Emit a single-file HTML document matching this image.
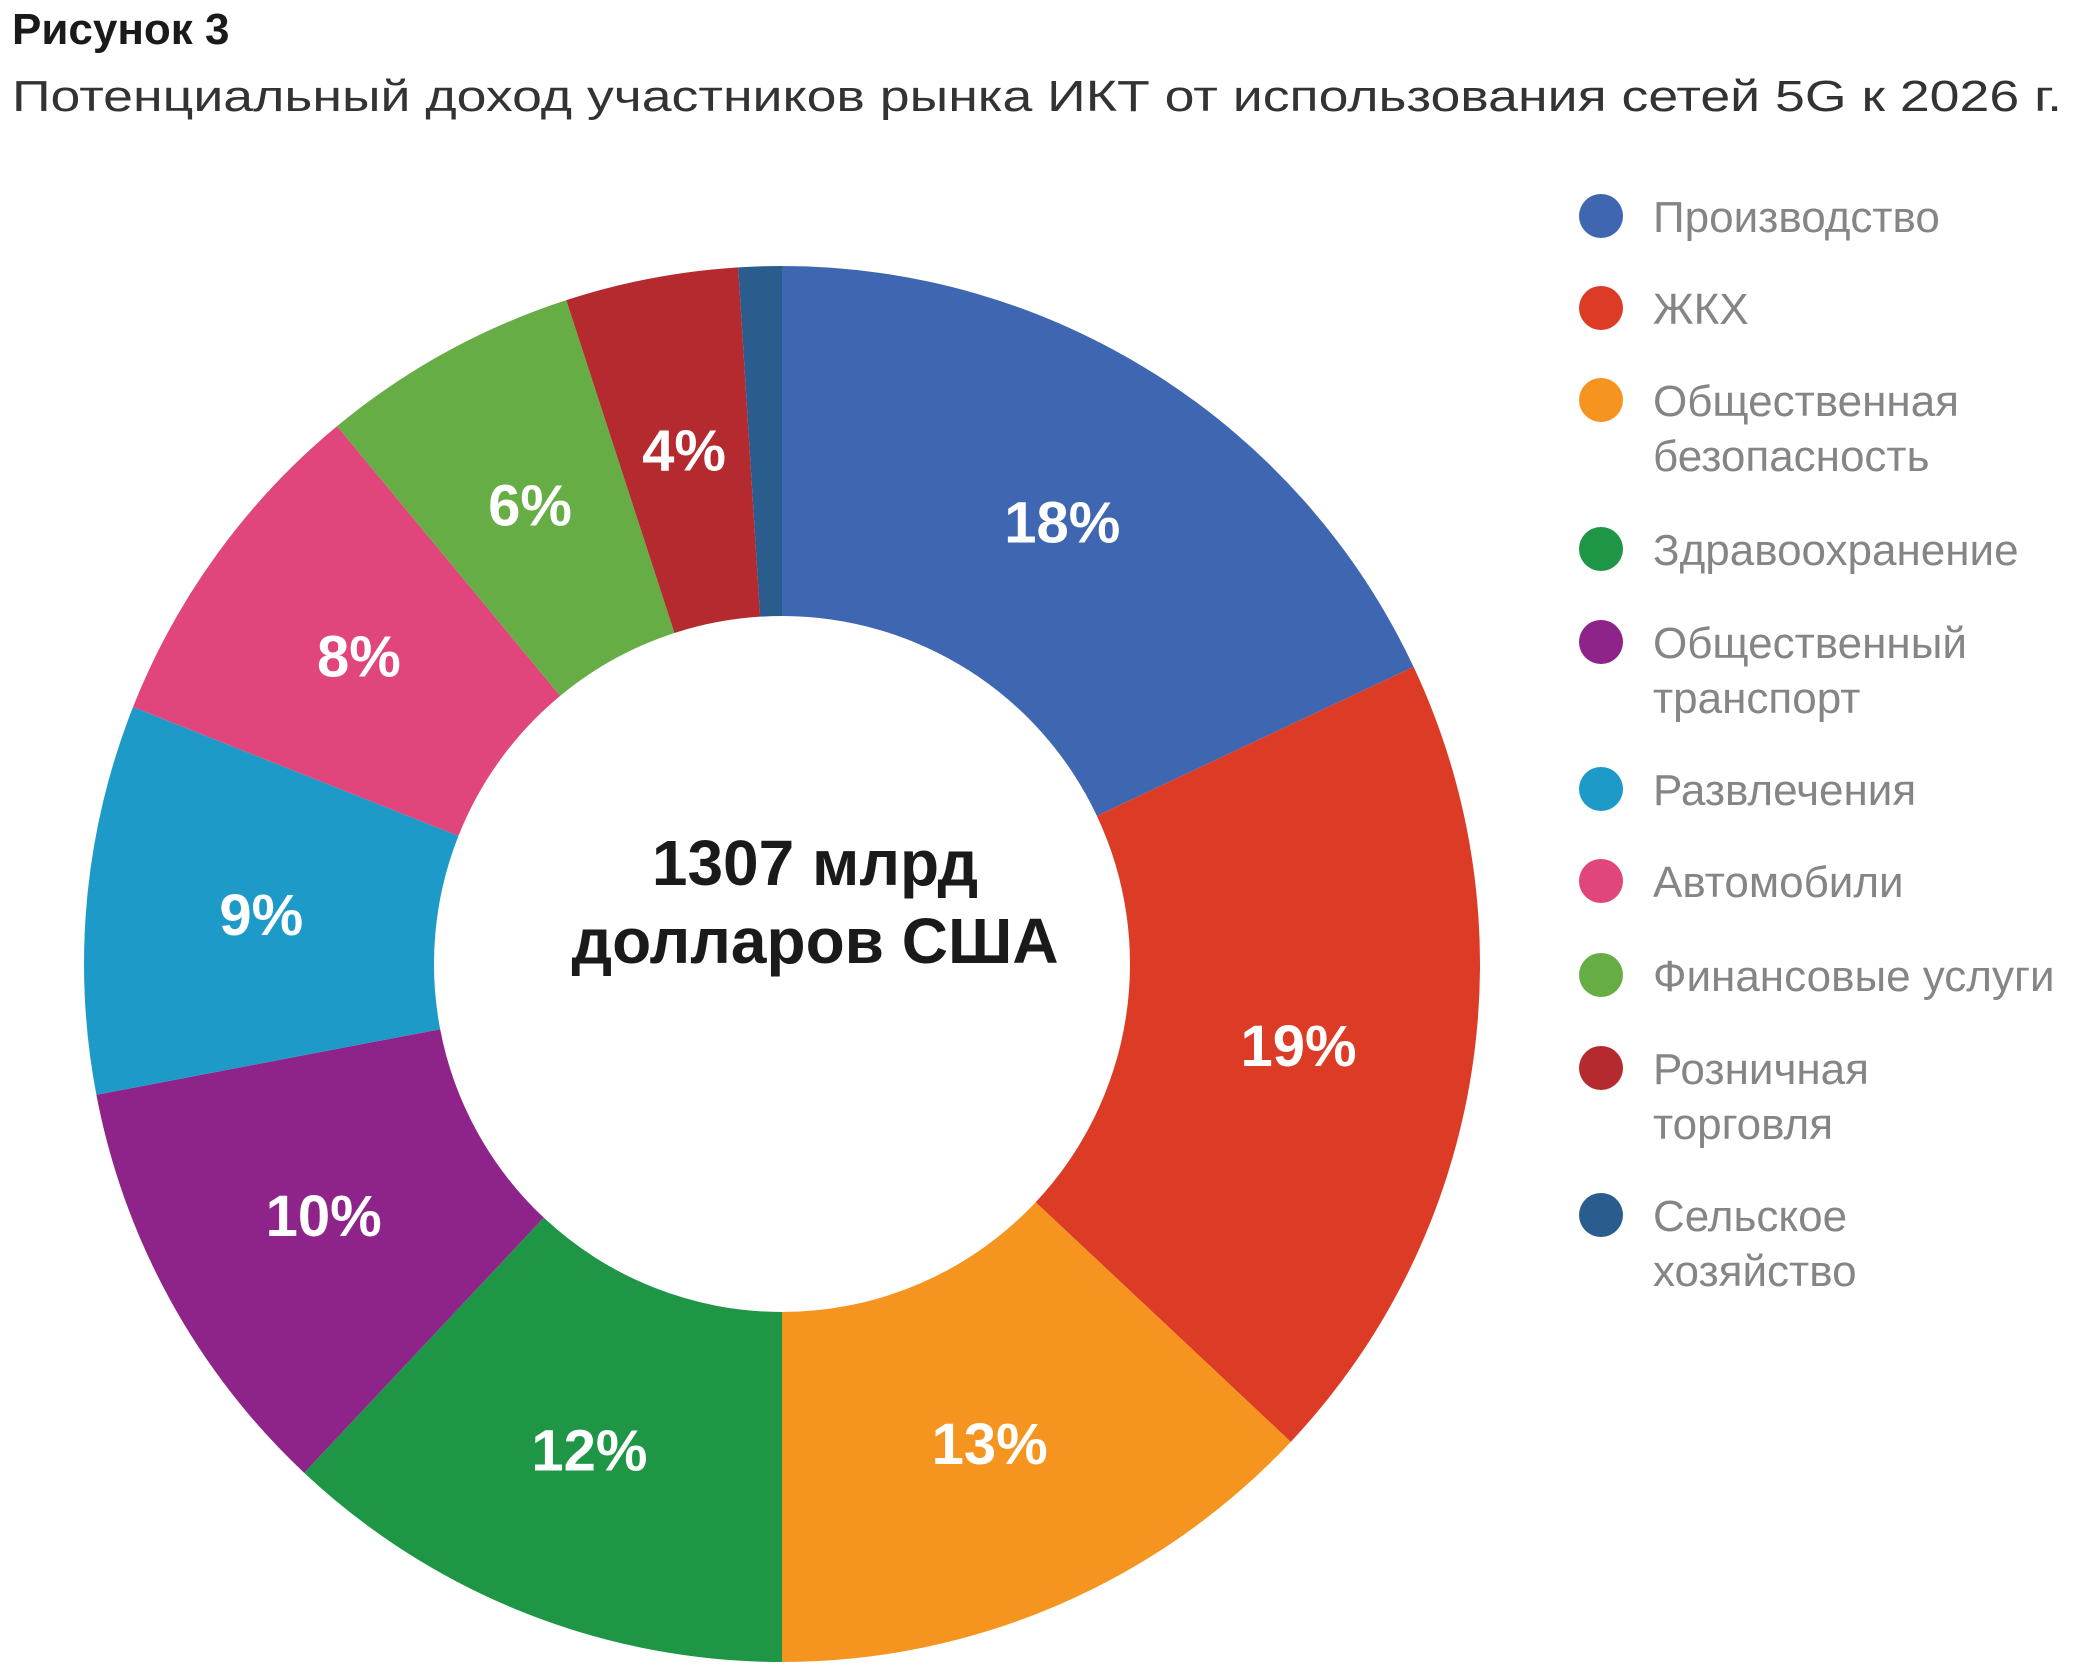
<!DOCTYPE html>
<html><head><meta charset="utf-8"><style>
html,body{margin:0;padding:0;background:#fff;}
svg{display:block;}
text{font-family:"Liberation Sans","DejaVu Sans",sans-serif;}
</style></head><body>
<svg id="chart" width="2083" height="1679" viewBox="0 0 2083 1679" xmlns="http://www.w3.org/2000/svg">
<text x="12" y="44" font-size="44" font-weight="bold" fill="#1a1a1a">Рисунок 3</text>
<text x="12" y="111" font-size="44" fill="#333" textLength="2050" lengthAdjust="spacingAndGlyphs">Потенциальный доход участников рынка ИКТ от использования сетей 5G к 2026 г.</text>
<g id="slices"></g>
<g id="labels"></g>
<text x="815" y="885" font-size="64" font-weight="bold" fill="#1a1a1a" text-anchor="middle">1307 млрд</text>
<text x="815" y="963" font-size="64" font-weight="bold" fill="#1a1a1a" text-anchor="middle">долларов США</text>
<g id="legend"></g>
</svg>
<script>
const categories = ["Производство","ЖКХ","Общественная безопасность","Здравоохранение","Общественный транспорт","Развлечения","Автомобили","Финансовые услуги","Розничная торговля","Сельское хозяйство"];
const legendLines = [["Производство"],["ЖКХ"],["Общественная","безопасность"],["Здравоохранение"],["Общественный","транспорт"],["Развлечения"],["Автомобили"],["Финансовые услуги"],["Розничная","торговля"],["Сельское","хозяйство"]];
const values = [18,19,13,12,10,9,8,6,4,1];
const valueLabels = ["18%","19%","13%","12%","10%","9%","8%","6%","4%",""];
const colors = ["#3F67B1","#DC3B26","#F5951F","#1E9646","#8E2489","#1E9AC9","#E0457B","#67AD45","#B52A2F","#2B5C8E"];

const NS="http://www.w3.org/2000/svg";
const cx=782, cy=964, R=698, r=348, LR=523;
const total=values.reduce((a,b)=>a+b,0);
function angle(v){return v/total*2*Math.PI;}
function pt(a,rad){return [cx+rad*Math.sin(a), cy-rad*Math.cos(a)];}
const gS=document.getElementById('slices'), gL=document.getElementById('labels'), gLeg=document.getElementById('legend');
let acc=0;
values.forEach((v,i)=>{
  const a0=angle(acc), a1=angle(acc+v); acc+=v;
  const large=(a1-a0)>Math.PI?1:0;
  const [x0,y0]=pt(a0,R),[x1,y1]=pt(a1,R),[x2,y2]=pt(a1,r),[x3,y3]=pt(a0,r);
  const p=document.createElementNS(NS,'path');
  p.setAttribute('d',`M${x0},${y0}A${R},${R} 0 ${large} 1 ${x1},${y1}L${x2},${y2}A${r},${r} 0 ${large} 0 ${x3},${y3}Z`);
  p.setAttribute('fill',colors[i]);
  
  
  gS.appendChild(p);
  if(valueLabels[i]){
    const [lx,ly]=pt((a0+a1)/2,LR);
    const t=document.createElementNS(NS,'text');
    t.setAttribute('x',lx); t.setAttribute('y',ly+20);
    t.setAttribute('text-anchor','middle'); t.setAttribute('font-size','58');
    t.setAttribute('font-weight','bold'); t.setAttribute('fill','#fff');
    t.textContent=valueLabels[i];
    
    
    gL.appendChild(t);
  }
});
const legY=[216,308,400,549,642,789,881,975,1068,1215];
categories.forEach((c,i)=>{
  const g=document.createElementNS(NS,'g');
  
  
  const dot=document.createElementNS(NS,'circle');
  dot.setAttribute('cx',1601); dot.setAttribute('cy',legY[i]); dot.setAttribute('r',22);
  dot.setAttribute('fill',colors[i]);
  
  
  g.appendChild(dot);
  legendLines[i].forEach((ln,j)=>{
    const t=document.createElementNS(NS,'text');
    t.setAttribute('x',1653); t.setAttribute('y',legY[i]+16+j*55);
    t.setAttribute('font-size','44'); t.setAttribute('fill','#858585');
    t.textContent=ln;
    
    
    g.appendChild(t);
  });
  gLeg.appendChild(g);
});
</script>
</body></html>
